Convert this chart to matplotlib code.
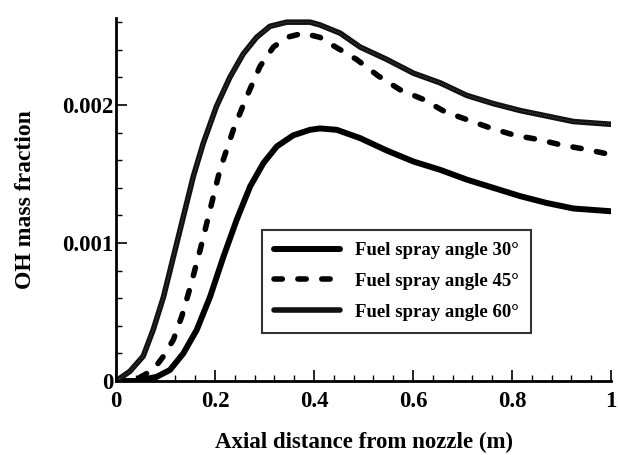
import matplotlib
matplotlib.use('Agg')
from matplotlib import pyplot as plt
from matplotlib.ticker import MultipleLocator, FixedLocator, FuncFormatter

# data
x30 = [0.0, 0.04, 0.082, 0.109, 0.136, 0.163, 0.19, 0.217, 0.244, 0.271, 0.298, 0.325,
       0.358, 0.392, 0.412, 0.446, 0.493, 0.547, 0.601, 0.655, 0.708, 0.762, 0.816,
       0.87, 0.924, 1.0]
y30 = [0.0, 0.0, 0.00003, 0.00008, 0.0002, 0.00037, 0.00061, 0.0009, 0.00117, 0.00141,
       0.00158, 0.0017, 0.00178, 0.00182, 0.00183, 0.00182, 0.00176, 0.00167, 0.00159,
       0.00153, 0.00146, 0.0014, 0.00134, 0.00129, 0.00125, 0.00123]

x45 = [0.0, 0.04, 0.075, 0.096, 0.116, 0.133, 0.15, 0.17, 0.19, 0.21, 0.237, 0.264,
       0.291, 0.318, 0.345, 0.378, 0.412, 0.439, 0.486, 0.53, 0.574, 0.621, 0.665,
       0.712, 0.759, 0.806, 0.853, 0.9, 0.947, 1.0]
y45 = [0.0, 0.00001, 0.00008, 0.00018, 0.0003, 0.00047, 0.00068, 0.00095, 0.00124,
       0.00153, 0.00182, 0.00206, 0.00228, 0.00242, 0.00249, 0.00252, 0.00249, 0.00243,
       0.00233, 0.00221, 0.00211, 0.00204, 0.00195, 0.00189, 0.00183, 0.00178, 0.00175,
       0.00171, 0.00168, 0.00164]

x60 = [0.0, 0.028, 0.055, 0.075, 0.096, 0.116, 0.136, 0.156, 0.176, 0.203, 0.23, 0.257,
       0.284, 0.311, 0.345, 0.392, 0.412, 0.453, 0.493, 0.547, 0.601, 0.655, 0.708,
       0.762, 0.816, 0.87, 0.924, 1.0]
y60 = [0.0, 0.00007, 0.00018, 0.00037, 0.00061, 0.0009, 0.00119, 0.00148, 0.00172,
       0.00199, 0.0022, 0.00237, 0.00249, 0.00257, 0.0026, 0.0026, 0.00258, 0.00252,
       0.00242, 0.00233, 0.00223, 0.00216, 0.00207, 0.00201, 0.00196, 0.00192, 0.00188,
       0.00186]

labels = ['Fuel spray angle 30\u00b0', 'Fuel spray angle 45\u00b0', 'Fuel spray angle 60\u00b0']
ytick_vals = [0, 0.001, 0.002]


def fmt(v, pos):
    # plain tick text like the original: 0, 0.2, ..., 1
    if abs(v) < 1e-12:
        return '0'
    return ('%.3f' % v).rstrip('0').rstrip('.')


plt.rcParams['font.family'] = ['Liberation Serif', 'DejaVu Serif']
plt.rcParams['font.weight'] = 'bold'

fig = plt.figure(figsize=(6.18, 4.55), dpi=100)
ax = fig.add_axes([0.1877, 0.1626, 0.801, 0.7978])

ax.plot(x30, y30, '-', color='black', lw=4.3, solid_capstyle='round', label=labels[0])
ax.plot(x45, y45, color='black', lw=4.0, dashes=(1.5, 2.8), dash_capstyle='round',
        label=labels[1])
ax.plot(x60, y60, '-', color='#111111', lw=4.0, solid_capstyle='round', label=labels[2])
ax.plot(x60, y60, color='#666666', lw=0.6, dashes=(1, 1.5))

ax.set_xlim(0, 1)
ax.set_ylim(0, 0.00263)

ax.xaxis.set_major_locator(MultipleLocator(0.2))
ax.xaxis.set_minor_locator(MultipleLocator(0.04))
ax.yaxis.set_major_locator(FixedLocator(ytick_vals))
ax.yaxis.set_minor_locator(MultipleLocator(0.0002))
ax.xaxis.set_major_formatter(FuncFormatter(fmt))
ax.yaxis.set_major_formatter(FuncFormatter(fmt))

for s in ['top', 'right']:
    ax.spines[s].set_visible(False)
for s in ['left', 'bottom']:
    ax.spines[s].set_linewidth(2)

ax.tick_params(which='major', direction='in', length=8, width=1.2, labelsize=16.5)
ax.tick_params(which='minor', direction='in', length=4, width=1)
ax.tick_params(axis='x', which='major', pad=7)
ax.tick_params(axis='y', which='major', pad=2)

ax.set_xlabel('Axial distance from nozzle (m)', fontsize=16.5, fontweight='bold')
ax.set_ylabel('OH mass fraction', fontsize=17, fontweight='bold')
ax.xaxis.set_label_coords(0.5, -0.14)
ax.yaxis.set_label_coords(-0.162, 0.5)

leg = ax.legend(loc='upper left', bbox_to_anchor=(0.295, 0.416), borderaxespad=0,
                fontsize=13.5, handlelength=3.5, handletextpad=0.8, frameon=True,
                fancybox=False, edgecolor='black', borderpad=0.65, labelspacing=0.72)
leg.get_frame().set_linewidth(1.5)
for t in leg.get_texts():
    t.set_fontweight('bold')

plt.savefig('out.png', dpi=100)
